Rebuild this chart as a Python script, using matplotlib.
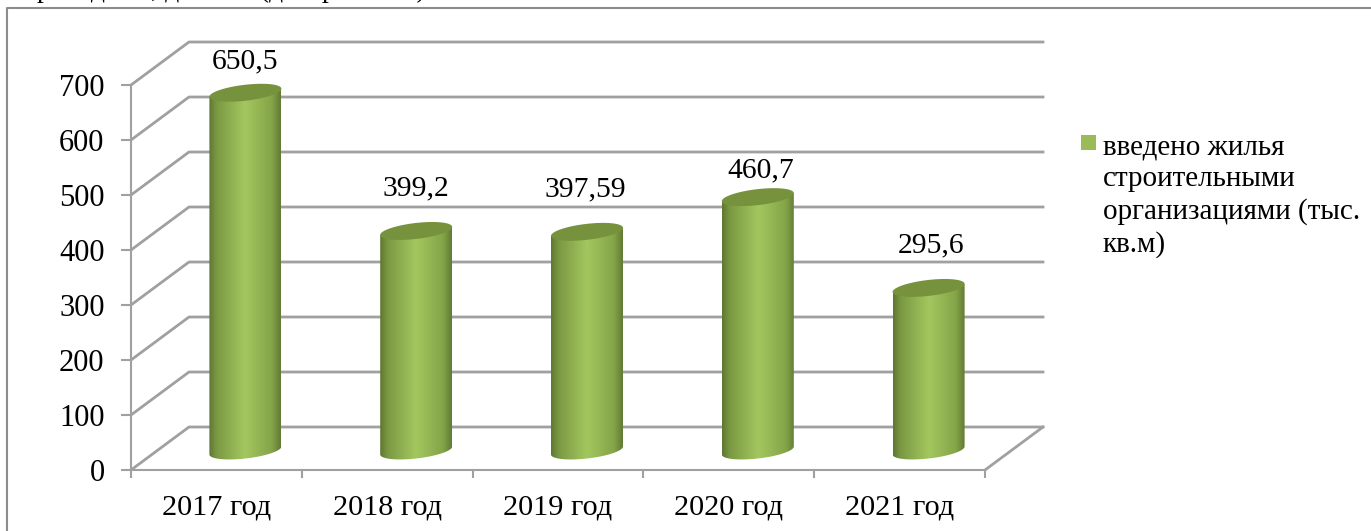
import numpy as np
import matplotlib
matplotlib.use("Agg")
import matplotlib.pyplot as plt
from matplotlib.patches import PathPatch, Rectangle
from matplotlib.path import Path
from matplotlib.colors import LinearSegmentedColormap

plt.rcParams["font.family"] = ["Liberation Serif", "DejaVu Serif"]

YEARS = ["2017 год", "2018 год", "2019 год", "2020 год", "2021 год"]
VALUES = [650.5, 399.2, 397.59, 460.7, 295.6]
VALUE_LABELS = ["650,5", "399,2", "397,59", "460,7", "295,6"]
Y_TICKS = [0, 100, 200, 300, 400, 500, 600, 700]
LEGEND_LABEL = "введено жилья\nстроительными\nорганизациями (тыс.\nкв.м)"

# hand placed data labels in the original, offset from bar top in px
LABEL_DX = [0, 0, -2, 3, 2]
LABEL_DY = [31, 43, 42, 27, 43]

W, H = 1371, 531
GREY = "#a0a0a0"

fig = plt.figure(figsize=(W / 100, H / 100), dpi=100)
# front plane of the fake 3d box
ax = fig.add_axes([131 / W, (H - 470) / H, 854 / W, 385 / H])
ax.set_xlim(0, 5)
ax.set_ylim(0, 700)
ax.patch.set_visible(False)

# px -> data units
ux = 5 / 854
uy = 700 / 385
DX, DY = 58 * ux, 43 * uy   # depth of the box

# back wall, side lines, floor
for v in Y_TICKS:
    ax.plot([0, DX, 5 + DX], [v, v + DY, v + DY], color=GREY, lw=2, clip_on=False, zorder=1)
ax.plot([5, 5 + DX], [0, DY], color=GREY, lw=2, clip_on=False, zorder=1)

for s in ("top", "right"):
    ax.spines[s].set_visible(False)
for s in ("left", "bottom"):
    ax.spines[s].set_color(GREY)
    ax.spines[s].set_linewidth(1.5)
ax.set_xticks(np.arange(6))
ax.set_xticklabels([])
ax.tick_params(axis="x", which="major", length=6, width=1.5, color=GREY)
ax.set_xticks(np.arange(5) + 0.5, minor=True)
ax.set_xticklabels(YEARS, minor=True, fontsize=21.8)
ax.tick_params(axis="x", which="minor", length=0, pad=18)
ax.set_yticks(Y_TICKS)
ax.set_yticklabels([str(v) for v in Y_TICKS], fontsize=22)
ax.tick_params(axis="y", length=7, width=1.5, color=GREY, pad=12)

cmap = LinearSegmentedColormap.from_list(
    "cyl", [(0, "#5f7733"), (0.1, "#7a9842"), (0.5, "#a3c75f"), (0.88, "#84a448"), (1, "#627b35")])
grad = np.linspace(0, 1, 200).reshape(1, -1)

a = 36 * ux      # half width of bar
b = 8 * uy       # ellipse half height
sh = 4 * uy      # ellipse tilt
t = np.linspace(0, 2 * np.pi, 121)

for i, (val, lab) in enumerate(zip(VALUES, VALUE_LABELS)):
    cx = i + 0.5 + DX / 2
    y0 = DY / 2 - 2 * uy
    y1 = y0 + val
    ex = a * np.cos(t)
    ey = b * np.sin(t) + sh * np.cos(t)
    # lower half of base ellipse + straight sides up to the top
    xs = np.r_[cx + ex[60:121], cx + a, cx - a]
    ys = np.r_[ey[60:121] + y0, y1 + sh, y1 - sh]
    clip = Path(np.column_stack([xs, ys]))
    im = ax.imshow(grad, extent=[cx - a, cx + a, y0 - 2 * b, y1 + 2 * b], cmap=cmap,
                   aspect="auto", zorder=3, interpolation="bilinear")
    im.set_clip_path(PathPatch(clip, transform=ax.transData))
    ax.fill(cx + ex, y1 + ey, color="#76923c", zorder=4, clip_on=False, lw=0)
    ax.text(cx + LABEL_DX[i] * ux, y1 + LABEL_DY[i] * uy, lab, ha="center", va="center",
            fontsize=21.3, color="black", zorder=5)

ax.set_xlim(0, 5)
ax.set_ylim(0, 700)

# legend: square sits on the first line of the wrapped label
fig.add_artist(Rectangle((1081 / W, 1 - 150 / H), 15 / W, 15 / H, color="#9bbb59",
                         transform=fig.transFigure, lw=0))
fig.text(1103 / W, 1 - 134 / H, LEGEND_LABEL, fontsize=21, va="top", ha="left", linespacing=1.29)

# chart frame, only left and top edge are inside the picture
fig.add_artist(plt.Line2D([7 / W, 7 / W, 1], [0, 1 - 8 / H, 1 - 8 / H], color="#8c8c8c", lw=1.5))

# caption of the page above the chart, cut by the picture edge
fig.text(22 / W, 1 + 3 / H, "приведены, данные (диаграмма 1)", fontsize=20, va="baseline", ha="left")

fig.savefig("out.png", dpi=100)
